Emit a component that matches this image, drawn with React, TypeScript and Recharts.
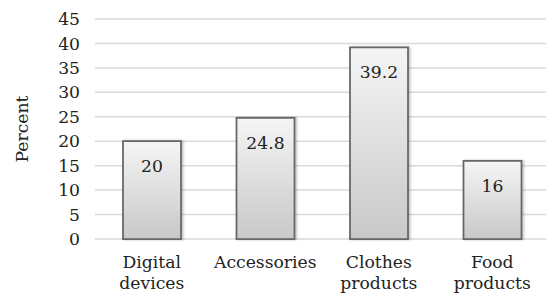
import React from 'react';
import { BarChart, Bar, XAxis, YAxis, CartesianGrid, LabelList } from 'recharts';

const categories = ['Digital devices', 'Accessories', 'Clothes products', 'Food products'];
const percents = [20, 24.8, 39.2, 16];
const yTicks = [0, 5, 10, 15, 20, 25, 30, 35, 40, 45];

const data = categories.map((name, i) => ({ name, value: percents[i] }));

const FONT = '"DejaVu Serif", serif';
const SIZE = 17.2;

function CategoryTick(props: any) {
  const { x, y, payload } = props;
  const words = String(payload.value).split(' ');
  return (
    <text x={x} y={y} textAnchor="middle" fill="#222" style={{ fontFamily: FONT, fontSize: SIZE }}>
      {words.map((w: string, i: number) => (
        <tspan key={i} x={x} dy={i === 0 ? 21 : 21}>{w}</tspan>
      ))}
    </text>
  );
}

function ValueLabel(props: any) {
  const { x, y, width, value } = props;
  return (
    <text x={x + width / 2} y={y + 25} textAnchor="middle" dominantBaseline="central" fill="#222" style={{ fontFamily: FONT, fontSize: SIZE }}>
      {value}
    </text>
  );
}

export default function App() {
  return (
    <div style={{ position: 'absolute', left: 0, top: 0, width: 546, height: 293, overflow: 'hidden', background: '#fff' }}>
      <BarChart width={549} height={293} data={data} margin={{ top: 19, right: 0, bottom: 0, left: 0 }} barCategoryGap={28}>
        <defs>
          <linearGradient id="barFill" x1="0" y1="0" x2="0" y2="1">
            <stop offset="0%" stopColor="#f5f5f5" />
            <stop offset="100%" stopColor="#c8c8c8" />
          </linearGradient>
          <filter id="barShadow" x="-10%" y="-10%" width="130%" height="120%">
            <feDropShadow dx="1.5" dy="0" stdDeviation="1" floodColor="#000" floodOpacity="0.25" />
          </filter>
        </defs>
        <CartesianGrid vertical={false} stroke="#d9d9d9" strokeWidth={1.5} />
        <XAxis
          dataKey="name"
          axisLine={false}
          tickLine={false}
          height={54}
          interval={0}
          tick={<CategoryTick />}
        />
        <YAxis
          type="number"
          domain={[0, 45]}
          ticks={yTicks}
          interval={0}
          axisLine={false}
          tickLine={false}
          tickSize={0}
          tickMargin={15}
          width={95}
          tick={{ fill: '#222', fontFamily: FONT, fontSize: SIZE }}
          label={{
            content: (p: any) => {
              const vb = p.viewBox;
              const cx = vb.x + 22;
              const cy = vb.y + vb.height / 2;
              return (
                <text x={cx} y={cy} transform={`rotate(-90, ${cx}, ${cy})`} textAnchor="middle" dominantBaseline="central" fill="#222" style={{ fontFamily: FONT, fontSize: SIZE }}>
                  Percent
                </text>
              );
            },
          }}
        />
        <Bar dataKey="value" fill="url(#barFill)" stroke="#666" strokeWidth={1.75} filter="url(#barShadow)" isAnimationActive={false}>
          <LabelList dataKey="value" content={<ValueLabel />} />
        </Bar>
      </BarChart>
    </div>
  );
}
